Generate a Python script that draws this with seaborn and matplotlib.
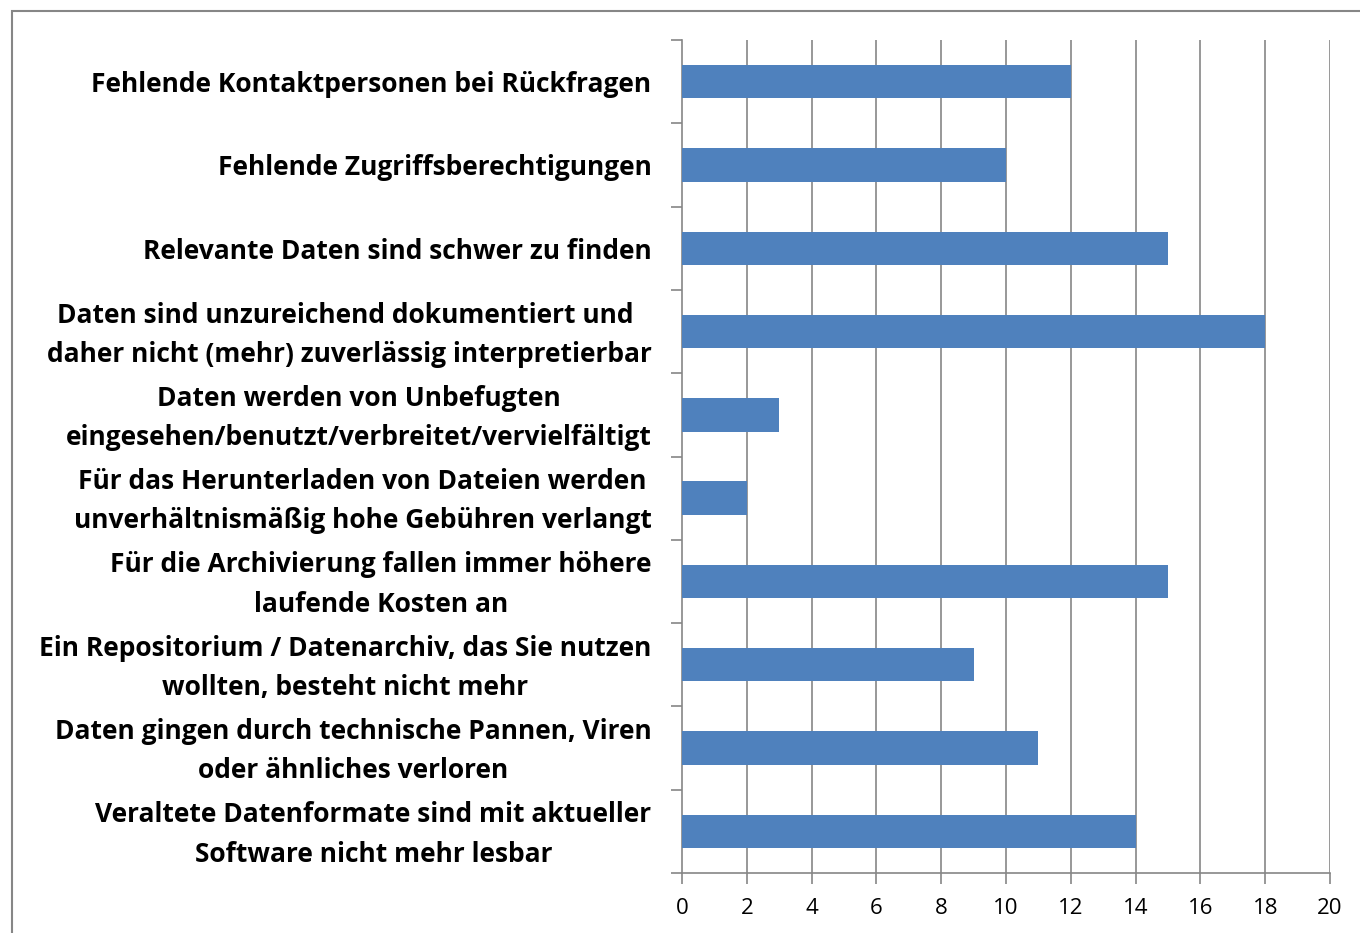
import matplotlib
matplotlib.use("Agg")
import matplotlib.pyplot as plt
import matplotlib.transforms as mtransforms
import seaborn as sns
import pandas as pd
from matplotlib.patches import Rectangle

sns.set_theme(style="white")
plt.rcParams['font.family'] = ['Open Sans', 'DejaVu Sans']
plt.rcParams['text.color'] = 'black'
plt.rcParams['xtick.color'] = 'black'
plt.rcParams['ytick.color'] = 'black'

# ====================== data ======================
labels = [
    "Fehlende Kontaktpersonen bei Rückfragen",
    "Fehlende Zugriffsberechtigungen",
    "Relevante Daten sind schwer zu finden",
    "Daten sind unzureichend dokumentiert und \ndaher nicht (mehr) zuverlässig interpretierbar",
    "Daten werden von Unbefugten\neingesehen/benutzt/verbreitet/vervielfältigt",
    "Für das Herunterladen von Dateien werden\nunverhältnismäßig hohe Gebühren verlangt",
    "Für die Archivierung fallen immer höhere\nlaufende Kosten an",
    "Ein Repositorium / Datenarchiv, das Sie nutzen\nwollten, besteht nicht mehr",
    "Daten gingen durch technische Pannen, Viren\noder ähnliches verloren",
    "Veraltete Datenformate sind mit aktueller\nSoftware nicht mehr lesbar",
]
counts = [12, 10, 15, 18, 3, 2, 15, 9, 11, 14]
x_ticks = [0, 2, 4, 6, 8, 10, 12, 14, 16, 18, 20]

df = pd.DataFrame({"label": labels, "count": counts})

grid_col = "#868686"

fig = plt.figure(figsize=(13.6, 9.33), dpi=100)
ax = fig.add_axes([682 / 1360, 1 - 873 / 933, (1330 - 682) / 1360, (873 - 40) / 933])

sns.barplot(data=df, x="count", y="label", orient="h", color="#4F81BD",
            saturation=1, width=0.4, linewidth=0, ax=ax, zorder=3)

ax.set_xlim(0, 20)
ax.set_ylim(len(labels) - 0.5, -0.5)
ax.set_xticks(x_ticks)
ax.set_xticklabels([str(t) for t in x_ticks], fontsize=16)
ax.set_xlabel("")
ax.set_ylabel("")

# vertical grid lines
for t in x_ticks[1:]:
    ax.axvline(t, color=grid_col, linewidth=1.2, zorder=1)

# spines
for s in ["top", "right"]:
    ax.spines[s].set_visible(False)
for s in ["left", "bottom"]:
    ax.spines[s].set_color(grid_col)
    ax.spines[s].set_linewidth(1.2)

# category labels, ticks at category boundaries
ax.set_yticks(range(len(labels)))
ax.set_yticklabels(labels, fontsize=19, fontweight="bold",
                   multialignment="center", linespacing=1.58)
ax.tick_params(axis="y", length=0, pad=22)
ax.set_yticks([i - 0.5 for i in range(len(labels) + 1)], minor=True)
ax.tick_params(axis="y", which="minor", length=8, width=1.2, color=grid_col, left=True)
ax.tick_params(axis="x", length=8, width=1.2, color=grid_col, bottom=True, pad=10)

# two-line labels sit a bit higher in the original
shift_up = mtransforms.ScaledTranslation(0, 6 / 100, fig.dpi_scale_trans)
for tl in ax.get_yticklabels():
    if "\n" in tl.get_text():
        tl.set_transform(tl.get_transform() + shift_up)

# outer frame
fig.patches.append(Rectangle((12 / 1360, -0.01), 1.02, 1 - 11 / 933 + 0.01,
                             transform=fig.transFigure, fill=False,
                             edgecolor=grid_col, linewidth=1.5))

fig.savefig("out.png", dpi=100)
